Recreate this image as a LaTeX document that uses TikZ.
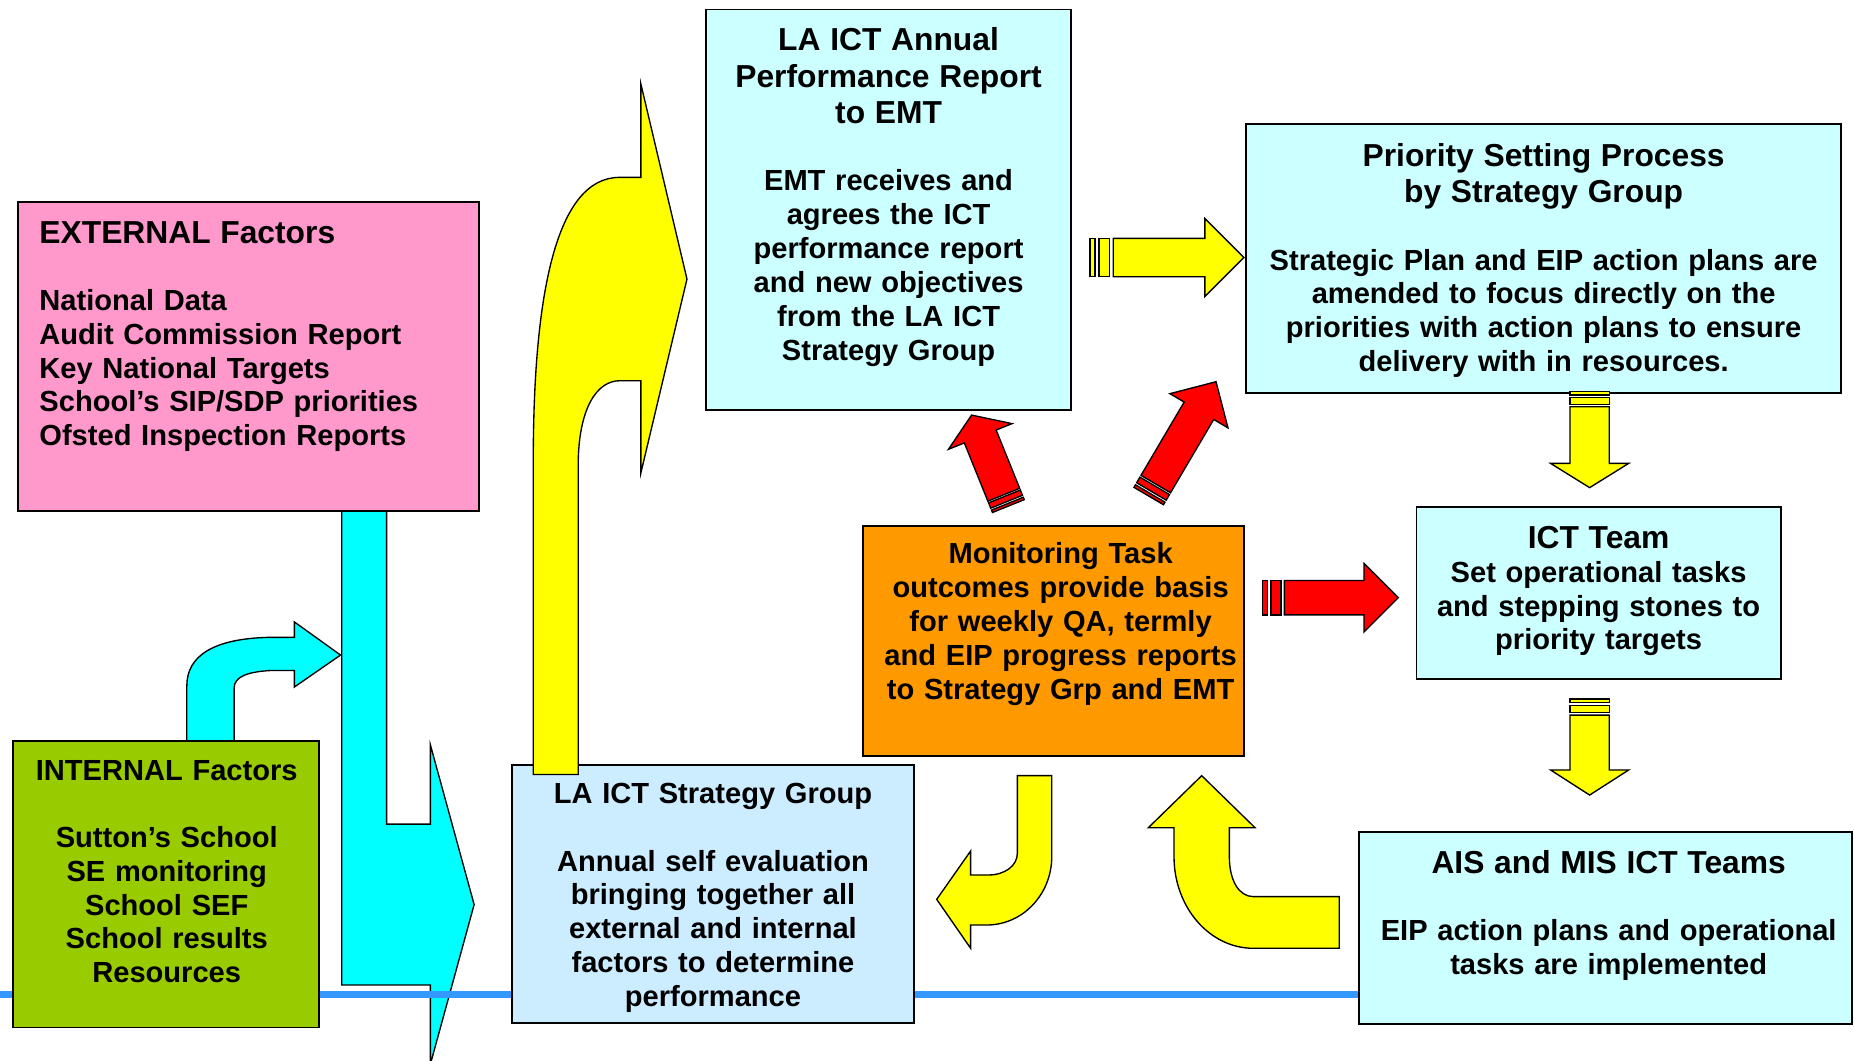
\documentclass[tikz,border=0pt]{standalone}
\usepackage{fontspec}
\setmainfont{Liberation Sans}
\usetikzlibrary{calc,fit}

\definecolor{paleaqua}{HTML}{CCFFFF}
\definecolor{paleblue}{HTML}{CCECFF}
\definecolor{rosepink}{HTML}{FF99CC}
\definecolor{amber}{HTML}{FF9900}
\definecolor{leafgreen}{HTML}{99CC00}
\definecolor{skyline}{HTML}{3399FF}
\definecolor{lemon}{HTML}{FFFF00}
\definecolor{scarlet}{HTML}{FF0000}
\definecolor{aqua}{HTML}{00FFFF}

\newcommand{\ttlfont}{\bfseries\fontsize{15.3}{17.6}\selectfont}
\newcommand{\bdyfont}{\bfseries\fontsize{14}{16.3}\selectfont}
\newcommand{\gapline}{\par\vspace{16pt}}

\tikzset{
	panel/.style={draw=black, line width=0.9pt, inner sep=0pt},
	txt/.style={align=center, inner sep=0pt, anchor=base, font=\bdyfont},
	yarrow/.style={draw=black, line width=0.65pt, fill=lemon},
	rarrow/.style={draw=black, line width=0.65pt, fill=scarlet},
	carrow/.style={draw=black, line width=0.65pt, fill=aqua},
}

% block arrow with two bars at its tail
\def\striparrow[#1](#2)(#3:#4:#5:#6:#7:#8){%
	\begin{scope}[shift={(#2)}, rotate=#3]
		\draw[#1] (0,-#6) rectangle (#8,#6);
		\draw[#1] (1.8*#8,-#6) rectangle (4*#8,#6);
		\draw[#1] (4.7*#8,-#6) -- (#4-#5,-#6) -- (#4-#5,-#7) -- (#4,0) -- (#4-#5,#7) -- (#4-#5,#6) -- (4.7*#8,#6) -- cycle;
	\end{scope}}

\begin{document}
\begin{tikzpicture}[x=0.02cm, y=-0.02cm]
			%%%%% START %%%%%
			\useasboundingbox (0,0) rectangle (1568,897);
			
			% cyan arrows into the strategy group
			\draw[carrow] (289,425) -- (289,833) -- (364,833) -- (364,900) -- (401,765) -- (364,630) -- (364,697) -- (327,697) -- (327,425) -- cycle;
			\draw[carrow] (158,630) -- (158,580) .. controls (158,555) and (180,540) .. (228,539) -- (249,539) -- (249,526) -- (288,554) -- (249,581) -- (249,567) -- (230,567) .. controls (210,568) and (198,572) .. (198,582) -- (198,630) -- cycle;
			
			\draw[skyline, line width=3.4pt] (0,841) -- (1150,841);
			
			% boxes
			\node[panel, fill=paleaqua, fit={(597,8) (906,347)}] (annual) {};
			\node[panel, fill=paleaqua, fit={(1054,105) (1557,332)}] (priority) {};
			\node[panel, fill=rosepink, fit={(15,171) (405,432)}] (external) {};
			\node[panel, fill=amber, fit={(730,445) (1052,639)}] (monitor) {};
			\node[panel, fill=paleaqua, fit={(1198,429) (1506,574)}] (ictteam) {};
			\node[panel, fill=leafgreen, fit={(11,627) (270,869)}] (internal) {};
			\node[panel, fill=paleblue, fit={(433,647) (773,865)}] (strategy) {};
			\node[panel, fill=paleaqua, fit={(1149,704) (1566,866)}] (ais) {};
			
			\node[txt, text width=6.1cm] (annualtext) at (751.5,42.7) {{\ttlfont LA ICT Annual\\Performance Report\\to EMT\gapline}EMT receives and\\agrees the ICT\\performance report\\and new objectives\\from the LA ICT\\Strategy Group};
			\node[txt, text width=9.8cm] (prioritytext) at (1305.5,140.7) {{\ttlfont Priority Setting Process\\by Strategy Group\gapline}Strategic Plan and EIP action plans are\\amended to focus directly on the\\priorities with action plans to ensure\\delivery with in resources.};
			\node[txt, text width=7.4cm, align=left, anchor=base west] (externaltext) at (33,205.7) {{\ttlfont EXTERNAL Factors\gapline}National Data\\Audit Commission Report\\Key National Targets\\School's SIP/SDP priorities\\Ofsted Inspection Reports};
			\node[txt, text width=6.3cm] (monitortext) at (897,476.9) {Monitoring Task\\outcomes provide basis\\for weekly QA, termly\\and EIP progress reports\\to Strategy Grp and EMT};
			\node[txt, text width=6cm] (ictteamtext) at (1352,463.7) {{\ttlfont ICT Team\par}Set operational tasks\\and stepping stones to\\priority targets};
			\node[txt, text width=5cm] (internaltext) at (141,659.9) {INTERNAL Factors\gapline Sutton's School\\SE monitoring\\School SEF\\School results\\Resources};
			\node[txt, text width=6.6cm] (strategytext) at (603,679.9) {LA ICT Strategy Group\gapline Annual self evaluation\\bringing together all\\external and internal\\factors to determine\\performance};
			\node[txt, text width=8.2cm] (aistext) at (1360.5,738.7) {{\ttlfont AIS and MIS ICT Teams\gapline}EIP action plans and operational\\tasks are implemented};
			
			% big yellow arrow up to the annual report
			\draw[yarrow] (451,655) -- (451,390) .. controls (451,250) and (470,150) .. (524,150) -- (542,150) -- (542,71) -- (581,236) -- (542,400) -- (542,322) -- (524,322) .. controls (505,322) and (489,345) .. (489,394) -- (489,655) -- cycle;
			
			% turning arrows
			\draw[yarrow] (860.4,656) -- (889.5,656) -- (889.5,724.5) .. controls (889.5,756.4) and (864.9,782.3) .. (834.5,782.3) -- (820.9,782.3) -- (820.9,802) -- (792.2,760.6) -- (820.9,719.7) -- (820.9,740) -- (835.9,740) .. controls (850,740) and (860.4,732) .. (860.4,721.7) -- cycle;
			\draw[yarrow] (1016.3,656) -- (1061.4,700) -- (1039.7,700) -- (1039.7,724.5) .. controls (1039.7,745) and (1048,758.3) .. (1060,758.3) -- (1132.7,758.3) -- (1132.7,802) -- (1060,802) .. controls (1023,802) and (992.9,767.3) .. (992.9,724.5) -- (992.9,700) -- (971.2,700) -- cycle;
			
			% barred arrows
			\striparrow[yarrow](921.8,217.8)(0:130.2:33:16.2:33:4.2)
			\striparrow[rarrow](1067.9,505.5)(0:114.7:29:14.5:29:3.9)
			\striparrow[yarrow](1344.4,331.3)(-90:81.1:20.5:16.6:33:2.7)
			\striparrow[yarrow](1344.4,591.2)(-90:81.2:21.2:16.6:33:2.9)
			\striparrow[rarrow](852.8,428)(112:83:19.5:14.5:29:2.2)
			\striparrow[rarrow](971.5,419.5)(59.5:112.2:28.5:14.5:28.5:2.5)
			
			%%%%% END %%%%%
\end{tikzpicture}
\end{document}
